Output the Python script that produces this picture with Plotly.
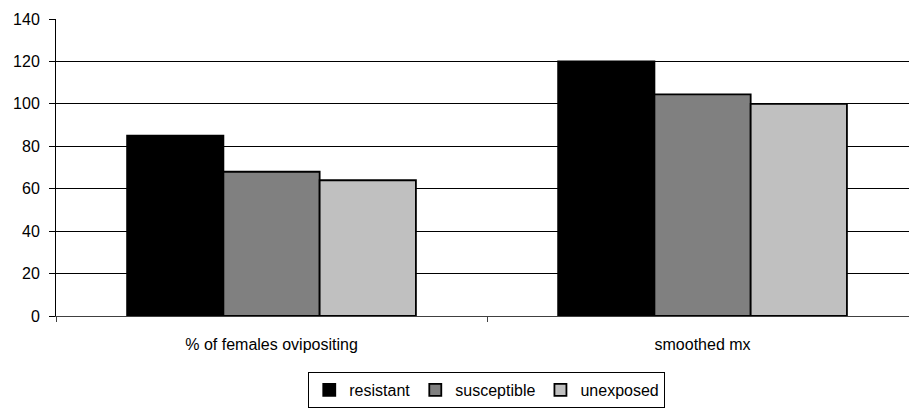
import plotly.graph_objects as go

categories = ["% of females ovipositing", "smoothed mx"]
resistant = [85, 120]
susceptible = [68, 104.5]
unexposed = [64, 100]
series_names = ["resistant", "susceptible", "unexposed"]
series_colors = ["#000000", "#808080", "#c0c0c0"]

fig = go.Figure()
for name, vals, color in zip(series_names, [resistant, susceptible, unexposed], series_colors):
    fig.add_trace(go.Bar(
        name=name, x=categories, y=vals,
        marker=dict(color=color, line=dict(color="#000000", width=1.8)),
    ))

font = dict(family="Arial, Liberation Sans, sans-serif", size=16, color="#000000")

fig.update_layout(
    width=909, height=408,
    margin=dict(l=56, r=0, t=19, b=91),
    paper_bgcolor="white", plot_bgcolor="white",
    barmode="group", bargap=0.33, bargroupgap=0,
    font=font,
    showlegend=True,
    legend=dict(
        orientation="h", x=0.505, xanchor="center", y=-0.19, yanchor="top",
        bordercolor="#000000", borderwidth=1, font=font,
        itemwidth=30, traceorder="normal", tracegroupgap=0,
    ),
    xaxis=dict(
        range=[-0.5, 1.479], showgrid=False,
        showline=True, linecolor="#404040", linewidth=1,
        ticks="outside", tickson="boundaries", ticklen=5, tickcolor="#404040",
        tickfont=font, fixedrange=True, ticklabelstandoff=14,
    ),
    yaxis=dict(
        range=[0, 140], dtick=20, tick0=0,
        showgrid=True, gridcolor="#000000", gridwidth=1,
        showline=True, linecolor="#000000", linewidth=1,
        ticks="outside", ticklen=6, tickcolor="#000000",
        tickfont=font, zeroline=False, ticklabelstandoff=6,
    ),
)

fig.write_html("out.html")
